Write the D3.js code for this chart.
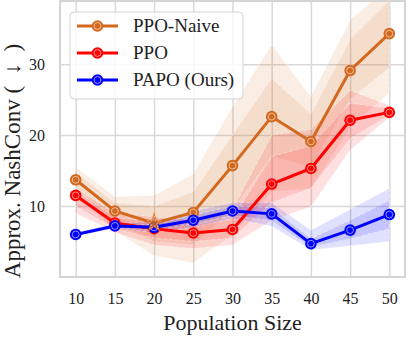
<!DOCTYPE html>
<html>
<head>
<meta charset="utf-8">
<script src="https://cdn.jsdelivr.net/npm/d3@7"></script>
<style>
  body { margin: 0; background: #fff; }
  svg { display: block; font-family: "Liberation Serif", "Times New Roman", serif; }
</style>
</head>
<body>
<div id="chart"></div>
<script>
    // values
    const popSizes = [10, 15, 20, 25, 30, 35, 40, 45, 50]
    const yTicks = [10, 20, 30]

    const naiveMean = [13.7, 9.3, 7.6, 9.1, 15.7, 22.6, 19.1, 29.1, 34.3]
    const naiveLo = [12.0, 6.5, 3.0, 2.0, 6.0, 12.0, 12.5, 21.0, 26.0]
    const naiveHi = [15.5, 11.3, 11.5, 14.5, 24.0, 32.7, 25.4, 36.2, 41.0]
    const naiveLoIn = [12.6, 7.5, 5.0, 4.5, 9.5, 17.0, 15.5, 25.0, 29.5]
    const naiveHiIn = [14.8, 10.5, 10.0, 12.0, 20.0, 28.0, 23.0, 33.5, 39.0]

    const ppoMean = [11.5, 7.6, 6.8, 6.2, 6.7, 13.1, 15.3, 22.1, 23.2]
    const ppoLo = [9.0, 6.3, 4.5, 4.0, 4.5, 8.0, 9.9, 17.9, 22.5]
    const ppoHi = [12.5, 9.0, 8.5, 8.0, 9.5, 20.0, 20.8, 26.3, 24.2]
    const ppoLoIn = [10.0, 6.8, 5.5, 5.0, 5.5, 10.5, 12.5, 19.5, 22.8]
    const ppoHiIn = [12.2, 8.4, 7.8, 7.3, 8.2, 17.0, 18.5, 24.5, 23.8]

    const papoMean = [6.0, 7.2, 7.0, 8.0, 9.3, 8.9, 4.7, 6.6, 8.8]
    const papoLo = [5.8, 6.8, 6.3, 7.0, 8.2, 7.2, 3.8, 4.4, 5.0]
    const papoHi = [6.2, 7.6, 7.8, 9.3, 10.5, 10.5, 6.6, 9.5, 12.5]
    const papoLoIn = [5.9, 7.0, 6.6, 7.5, 8.7, 7.9, 4.2, 5.4, 6.8]
    const papoHiIn = [6.1, 7.4, 7.4, 8.7, 10.0, 9.8, 5.4, 8.0, 10.8]

    const series = [
        { name: "PPO-Naive", color: "#d2691e", mean: naiveMean, bands: [[naiveLo, naiveHi], [naiveLoIn, naiveHiIn]] },
        { name: "PPO", color: "#ff0000", mean: ppoMean, bands: [[ppoLo, ppoHi], [ppoLoIn, ppoHiIn]] },
        { name: "PAPO (Ours)", color: "#0000ff", mean: papoMean, bands: [[papoLo, papoHi], [papoLoIn, papoHiIn]] }
    ]

    const W = 408, H = 338
    const plotL = 60, plotR = 405, plotT = 1, plotB = 277
    const gridColor = "#d9d9d9"

    const svg = d3.select("#chart").append("svg")
        .attr("width", W)
        .attr("height", H)

    const x = d3.scaleLinear().domain([8, 52]).range([plotL, plotR])
    const y = d3.scaleLinear().domain([0, 38.9]).range([plotB, plotT])

    svg.append("defs").append("clipPath").attr("id", "plotClip")
        .append("rect")
        .attr("x", plotL).attr("y", plotT)
        .attr("width", plotR - plotL).attr("height", plotB - plotT)

    // grid + tick labels via axes
    const xAxis = svg.append("g")
        .attr("transform", "translate(0," + plotB + ")")
        .call(d3.axisBottom(x).tickValues(popSizes).tickSize(-(plotB - plotT)).tickPadding(16))
    const yAxis = svg.append("g")
        .attr("transform", "translate(" + plotL + ",0)")
        .call(d3.axisLeft(y).tickValues(yTicks).tickSize(-(plotR - plotL)).tickPadding(15))

    for (const ax of [xAxis, yAxis]) {
        ax.select(".domain").remove()
        ax.selectAll(".tick line").attr("stroke", gridColor).attr("stroke-width", 1.5)
        ax.selectAll(".tick text")
            .attr("font-size", 16)
            .attr("fill", "#222")
            .attr("font-family", "'Liberation Serif', 'Times New Roman', serif")
    }

    const plot = svg.append("g").attr("clip-path", "url(#plotClip)")

    // shaded bands
    series.forEach((s) => {
        s.bands.forEach(([lo, hi]) => {
            const area = d3.area()
                .x((d, i) => x(popSizes[i]))
                .y0((d, i) => y(lo[i]))
                .y1((d, i) => y(hi[i]))
            plot.append("path")
                .datum(popSizes)
                .attr("d", area)
                .attr("fill", s.color)
                .attr("fill-opacity", 0.12)
                .attr("stroke", "#fff")
                .attr("stroke-width", 0.7)
                .attr("stroke-dasharray", "4,2")
                .attr("stroke-opacity", 0.55)
        })
    })

    // lines and markers
    const line = d3.line()
        .x((d, i) => x(popSizes[i]))
        .y((d) => y(d))

    series.forEach((s) => {
        plot.append("path")
            .datum(s.mean)
            .attr("d", line)
            .attr("fill", "none")
            .attr("stroke", s.color)
            .attr("stroke-width", 3)

        const pts = s.mean.map((v, i) => ({ v: v, i: i }))
            .filter((d) => !(s.name === "PPO-Naive" && popSizes[d.i] === 20))
        const g = plot.append("g")
        g.selectAll("circle.outer").data(pts).enter()
            .append("circle")
            .attr("class", "outer")
            .attr("cx", (d) => x(popSizes[d.i]))
            .attr("cy", (d) => y(d.v))
            .attr("r", 5.8)
            .attr("fill", s.color)
        g.selectAll("circle.inner").data(pts).enter()
            .append("circle")
            .attr("class", "inner")
            .attr("cx", (d) => x(popSizes[d.i]))
            .attr("cy", (d) => y(d.v))
            .attr("r", 3.4)
            .attr("fill", "none")
            .attr("stroke", "#fff")
            .attr("stroke-width", 0.8)
            .attr("stroke-opacity", 0.7)
    })

    // star marker on PPO-Naive at 20
    const starIdx = popSizes.indexOf(20)
    const star = plot.append("g")
        .attr("transform", "translate(" + x(20) + "," + y(naiveMean[starIdx]) + ")")
    star.append("path")
        .attr("d", d3.symbol().type(d3.symbolStar).size(140)())
        .attr("fill", "#d2691e")
        .attr("fill-opacity", 0.85)
    star.append("path")
        .attr("d", d3.symbol().type(d3.symbolStar).size(60)())
        .attr("fill", "none")
        .attr("stroke", "#fff")
        .attr("stroke-width", 0.7)
        .attr("stroke-dasharray", "2,1.5")
        .attr("stroke-opacity", 0.7)

    // frame
    svg.append("rect")
        .attr("x", plotL).attr("y", plotT)
        .attr("width", plotR - plotL).attr("height", plotB - plotT)
        .attr("fill", "none")
        .attr("stroke", "#d4d4d4")
        .attr("stroke-width", 2)

    // axis titles
    svg.append("text")
        .attr("x", (plotL + plotR) / 2)
        .attr("y", 330)
        .attr("text-anchor", "middle")
        .attr("font-size", 22)
        .attr("fill", "#222")
        .text("Population Size")

    const yTitle = svg.append("text")
        .attr("transform", "translate(20,161) rotate(-90)")
        .attr("text-anchor", "middle")
        .attr("font-size", 23)
        .attr("fill", "#222")
    yTitle.append("tspan").text("Approx. NashConv ")
    yTitle.append("tspan").text("(\u2002\u2193\u2002)")

    // legend
    const legend = svg.append("g")
    legend.append("rect")
        .attr("x", 70).attr("y", 12)
        .attr("width", 173).attr("height", 87)
        .attr("rx", 4)
        .attr("fill", "#fff")
        .attr("fill-opacity", 0.8)
        .attr("stroke", "#d4d4d4")
        .attr("stroke-width", 1)

    series.forEach((s, k) => {
        const cy = 26 + k * 27
        legend.append("line")
            .attr("x1", 77).attr("x2", 118)
            .attr("y1", cy).attr("y2", cy)
            .attr("stroke", s.color)
            .attr("stroke-width", 3)
        legend.append("circle")
            .attr("cx", 97.5).attr("cy", cy).attr("r", 5.8)
            .attr("fill", s.color)
        legend.append("circle")
            .attr("cx", 97.5).attr("cy", cy).attr("r", 3.4)
            .attr("fill", "none")
            .attr("stroke", "#fff")
            .attr("stroke-width", 0.8)
            .attr("stroke-opacity", 0.7)
        legend.append("text")
            .attr("x", 133)
            .attr("y", cy + 6)
            .attr("font-size", 19)
            .attr("fill", "#222")
            .text(s.name)
    })
</script>
</body>
</html>
